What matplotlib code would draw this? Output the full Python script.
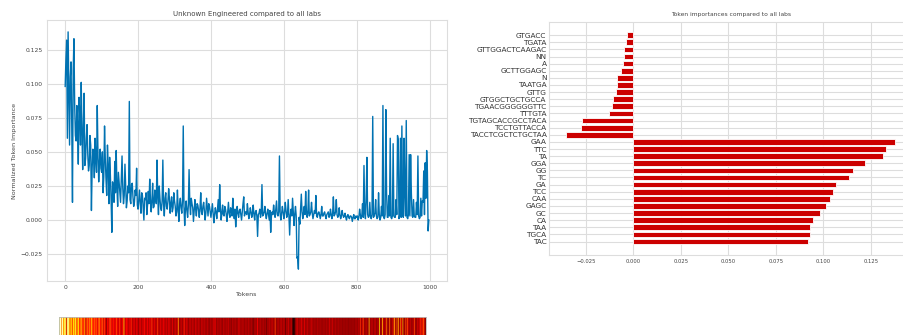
import numpy as np
import matplotlib
matplotlib.use("Agg")
import matplotlib.pyplot as plt

# normalized token importance
# imp_even: tokens 0, 4, 8, ..., 996
imp_even = [
    0.098, 0.132, 0.138, 0.055, 0.116, 0.013, 0.133, 0.062, 0.084, 0.041, 0.077, 0.101, 0.037,
    0.093, 0.045, 0.070, 0.036, 0.062, 0.007, 0.052, 0.031, 0.045, 0.084, 0.028, 0.052,
    0.035, 0.020, 0.069, 0.030, 0.055, 0.012, 0.033, -0.009, 0.022, 0.043, 0.051, 0.010, 0.028,
    0.013, 0.047, 0.012, 0.041, 0.009, 0.025, 0.087, 0.012, 0.027, 0.010, 0.022, 0.038,
    0.008, 0.022, 0.005, 0.018, 0.000, 0.015, 0.004, 0.021, 0.030, 0.006, 0.027, 0.010, 0.018,
    0.044, 0.004, 0.016, 0.007, 0.044, 0.003, 0.020, 0.008, 0.023, 0.005, 0.017, 0.009,
    0.014, 0.003, 0.022, -0.001, 0.016, 0.005, 0.069, -0.004, 0.014, 0.002, 0.037, 0.004, 0.012,
    -0.001, 0.015, 0.003, 0.011, 0.002, 0.020, 0.004, 0.013, 0.000, 0.016, 0.003, 0.010,
    0.002, 0.012, -0.002, 0.009, 0.001, 0.015, 0.026, 0.000, 0.011, 0.003, 0.008, -0.001, 0.013,
    0.002, 0.007, 0.016, 0.001, -0.005, 0.010, 0.002, 0.008, 0.000, 0.012, 0.003, 0.006,
    0.012, 0.001, 0.009, 0.002, 0.011, 0.000, 0.007, -0.012, 0.005, 0.002, 0.026, 0.004, 0.010,
    0.001, 0.008, 0.000, -0.009, 0.006, 0.011, 0.002, 0.014, 0.003, 0.047, 0.000, 0.010,
    0.001, 0.013, 0.002, 0.015, -0.011, 0.008, 0.016, -0.004, 0.010, -0.028, -0.036, -0.003, 0.019,
    0.001, 0.010, 0.021, 0.002, 0.022, 0.004, 0.013, 0.001, 0.007, 0.018, 0.002, 0.006,
    0.001, 0.010, 0.003, 0.006, 0.001, 0.005, 0.002, 0.008, 0.001, 0.017, 0.004, 0.015, 0.002,
    0.009, 0.001, 0.007, 0.002, 0.005, 0.000, 0.004, 0.001, 0.003, -0.001, 0.004, 0.001,
    0.002, 0.000, 0.008, 0.001, 0.012, 0.040, 0.001, 0.046, 0.002, 0.013, 0.001, 0.076, 0.003,
    0.015, 0.001, 0.020, 0.000, 0.010, 0.084, 0.001, 0.081, 0.002, 0.018, 0.060, 0.001,
    0.056, 0.002, 0.015, 0.062, 0.001, 0.060, 0.069, 0.002, 0.020, 0.073, 0.001, 0.048, 0.048,
    0.003, 0.015, 0.002, 0.013, 0.047, 0.001, 0.016, 0.014, 0.036, 0.042, 0.051, -0.008,
]
# imp_odd: tokens 2, 6, 10, ..., 998
imp_odd = [
    0.118, 0.060, 0.095, 0.105, 0.070, 0.110, 0.085, 0.058, 0.068, 0.090, 0.055, 0.065, 0.072,
    0.040, 0.060, 0.048, 0.040, 0.055, 0.038, 0.047, 0.060, 0.035, 0.048, 0.042, 0.038,
    0.050, 0.032, 0.045, 0.018, 0.040, 0.046, 0.015, 0.028, 0.013, 0.020, 0.025, 0.035, 0.021,
    0.030, 0.024, 0.018, 0.026, 0.014, 0.020, 0.015, 0.026, 0.017, 0.013, 0.018, 0.011,
    0.015, 0.012, 0.020, 0.009, 0.016, 0.020, 0.011, 0.012, 0.015, 0.014, 0.009, 0.022, 0.012,
    0.017, 0.025, 0.009, 0.014, 0.012, 0.016, 0.010, 0.014, 0.016, 0.012, 0.006, 0.020,
    0.010, 0.006, 0.008, 0.012, 0.009, 0.014, 0.010, 0.008, 0.007, 0.011, 0.012, 0.016, 0.009,
    0.007, 0.008, 0.012, 0.007, 0.009, 0.006, 0.010, 0.007, 0.005, 0.009, 0.012, 0.006,
    0.007, 0.005, 0.004, 0.006, 0.008, 0.006, 0.009, 0.005, 0.004, 0.010, 0.004, 0.006, 0.005,
    0.009, 0.003, 0.006, 0.008, 0.004, 0.005, 0.007, 0.004, 0.006, 0.017, 0.006, 0.004,
    0.006, 0.004, 0.006, 0.005, 0.004, 0.006, 0.003, 0.004, 0.008, 0.005, 0.003, 0.006, 0.004,
    0.005, 0.004, 0.007, 0.003, 0.004, 0.006, 0.008, 0.004, 0.006, 0.004, 0.005, 0.006,
    0.005, 0.007, 0.004, 0.003, 0.004, 0.003, 0.006, 0.004, 0.003, -0.027, 0.002, 0.008, 0.006,
    0.005, 0.004, 0.007, 0.005, 0.003, 0.006, 0.005, 0.004, 0.005, 0.003, 0.005, 0.004,
    0.004, 0.003, 0.005, 0.003, 0.004, 0.006, 0.003, 0.004, 0.005, 0.003, 0.006, 0.004, 0.003,
    0.004, 0.003, 0.004, 0.003, 0.002, 0.003, 0.002, 0.003, 0.002, 0.002, 0.001, 0.003,
    0.003, 0.002, 0.004, 0.003, 0.002, 0.005, 0.015, 0.004, 0.003, 0.002, 0.004, 0.002, 0.005,
    0.003, 0.002, 0.004, 0.002, 0.003, 0.002, 0.004, 0.020, 0.002, 0.003, 0.002, 0.003,
    0.003, 0.002, 0.004, 0.059, 0.003, 0.002, 0.004, 0.060, 0.003, 0.002, 0.004, 0.003, 0.020,
    0.002, 0.003, 0.002, 0.004, 0.003, 0.002, 0.003, 0.013, 0.004, 0.016, 0.036, 0.000,
]

importance = np.empty(len(imp_even) + len(imp_odd))
importance[0::2] = imp_even
importance[1::2] = imp_odd
tokens = np.arange(0, 2 * len(importance), 2)

# top tokens, listed top to bottom
bar_labels = ["GTGACC", "TGATA", "GTTGGACTCAAGAC", "NN", "A", "GCTTGGAGC", "N", "TAATGA",
              "GTTG", "GTGGCTGCTGCCA", "TGAACGGGGGGTTC", "TTTGTA", "TGTAGCACCGCCTACA",
              "TCCTGTTACCA", "TACCTCGCTCTGCTAA", "GAA", "TTC", "TA", "GGA", "GG", "TC", "GA",
              "TCC", "CAA", "GAGC", "GC", "CA", "TAA", "TGCA", "TAC"]
bar_values = [-0.0033, -0.0040, -0.0049, -0.0049, -0.0053, -0.0063, -0.0083, -0.0088,
              -0.0090, -0.0109, -0.0114, -0.0126, -0.0269, -0.0274, -0.0355, 0.1378, 0.1327,
              0.1315, 0.1217, 0.1155, 0.1132, 0.1064, 0.1050, 0.1036, 0.1015, 0.0980, 0.0944,
              0.0930, 0.0927, 0.0916]

grid_c = "#dddddd"
txt_c = "#444444"

fig = plt.figure(figsize=(9.04, 3.35), dpi=100)

# left: line plot
ax1 = fig.add_axes([0.052, 0.1612, 0.4425, 0.779])
ax1.plot(tokens, importance, color="#0072B2", linewidth=1.0)
ax1.set_title("Unknown Engineered compared to all labs", fontsize=5, color=txt_c, pad=3)
ax1.set_xlabel("Tokens", fontsize=4.5, color=txt_c, labelpad=1)
ax1.set_ylabel("Normalized Token Importance", fontsize=4.6, color=txt_c, labelpad=3)
ax1.set_xticks([0, 200, 400, 600, 800, 1000])
ax1.set_yticks([-0.025, 0.0, 0.025, 0.05, 0.075, 0.1, 0.125])
ax1.tick_params(labelsize=4.3, length=0, pad=3, labelcolor=txt_c)
ax1.grid(True, color=grid_c, linewidth=0.8)
ax1.set_axisbelow(True)
for s in ax1.spines.values():
    s.set_color(grid_c)
    s.set_linewidth(0.8)

# strip under the line plot
ax3 = fig.add_axes([0.0656, -0.03, 0.4053, 0.0828])
ax3.imshow(importance[np.newaxis, :], cmap="hot", aspect="auto",
           interpolation="hanning", interpolation_stage="rgba")
ax3.set_xticks([])
ax3.set_yticks([])
for s in ax3.spines.values():
    s.set_color("#bbbbbb")
    s.set_linewidth(0.6)

# right: horizontal bars
ax2 = fig.add_axes([0.6076, 0.2388, 0.4011, 0.6964])
ax2.barh(np.arange(len(bar_values)), bar_values, height=0.8, color="#cc0000",
         edgecolor="white", linewidth=0.6)
ax2.set_yticks(np.arange(len(bar_labels)))
ax2.set_yticklabels(bar_labels)
ax2.invert_yaxis()
ax2.set_xticks([-0.025, 0.0, 0.025, 0.05, 0.075, 0.1, 0.125])
ax2.set_title("Token importances compared to all labs", fontsize=4.3, color=txt_c, pad=4)
ax2.tick_params(axis="y", labelsize=5.3, length=0, pad=2, labelcolor="#333333")
ax2.tick_params(axis="x", labelsize=3.8, length=0, pad=3, labelcolor=txt_c)
ax2.grid(True, color=grid_c, linewidth=0.8)
ax2.set_axisbelow(True)
for s in ax2.spines.values():
    s.set_color(grid_c)
    s.set_linewidth(0.8)

fig.savefig("out.png", dpi=100)
